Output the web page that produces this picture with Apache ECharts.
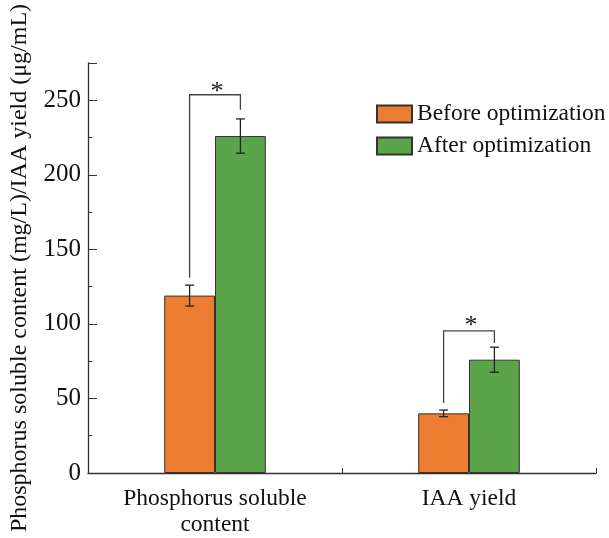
<!DOCTYPE html>
<html>
<head>
    <meta charset="utf-8" />
    <title>Phosphorus / IAA</title>
    <script src="https://cdn.jsdelivr.net/npm/echarts@6/dist/echarts.min.js"></script>
</head>
<body style="margin:0;">
    <div id="divChart" style="width:609px;height:538px;"></div>
    <script>
        // data
        var categories = ['Phosphorus soluble\ncontent', 'IAA yield'];
        var beforeVals = [119, 40];
        var beforeErr = [7, 2.2];
        var afterVals = [226, 76];
        var afterErr = [11.5, 8.4];
        // significance brackets: [top, left arm end, right arm end, star]
        var bracketTop = [253.7, 95.3];
        var bracketLeftEnd = [131, 47];
        var bracketRightEnd = [243.6, 87.2];
        var starLevel = [260, 103.5];
        var yTicks = [0, 50, 100, 150, 200, 250];

        var font = 'Liberation Serif';
        var orange = '#ED7D31';
        var green = '#5CA44A';

        function errItem(vals, errs) {
            return vals.map(function (v, i) { return [i, v - errs[i], v + errs[i]]; });
        }

        // side: -1 left bar, +1 right bar
        function errorRender(side) {
            return function (params, api) {
                var bw = api.size([1, 0])[0];
                var off = side * bw * 0.1;
                var lo = api.coord([api.value(0), api.value(1)]);
                var hi = api.coord([api.value(0), api.value(2)]);
                var x = lo[0] + off;
                var st = { stroke: '#222', lineWidth: 1.3 };
                return {
                    type: 'group',
                    children: [
                        { type: 'line', shape: { x1: x, y1: lo[1], x2: x, y2: hi[1] }, style: st },
                        { type: 'line', shape: { x1: x - 4.5, y1: lo[1], x2: x + 4.5, y2: lo[1] }, style: st },
                        { type: 'line', shape: { x1: x - 4.5, y1: hi[1], x2: x + 4.5, y2: hi[1] }, style: st }
                    ]
                };
            };
        }

        var bracketData = categories.map(function (c, i) {
            return [i, bracketTop[i], bracketLeftEnd[i], bracketRightEnd[i], starLevel[i]];
        });

        function bracketRender(params, api) {
            var bw = api.size([1, 0])[0];
            var c = api.coord([api.value(0), api.value(1)]);
            var xl = c[0] - bw * 0.1;
            var xr = c[0] + bw * 0.1;
            var yt = c[1];
            var yl = api.coord([api.value(0), api.value(2)])[1];
            var yr = api.coord([api.value(0), api.value(3)])[1];
            var ys = api.coord([api.value(0), api.value(4)])[1];
            return {
                type: 'group',
                children: [
                    {
                        type: 'polyline',
                        shape: { points: [[xl, yl], [xl, yt], [xr, yt], [xr, yr]] },
                        style: { stroke: '#444', lineWidth: 1.3, fill: null }
                    },
                    {
                        type: 'text',
                        style: {
                            text: '*', x: c[0] + 2, y: ys + 7, align: 'center', verticalAlign: 'middle',
                            font: '26px "' + font + '"', fill: '#222'
                        }
                    }
                ]
            };
        }

        var myChart = echarts.init(document.getElementById('divChart'));
        var option = {
            backgroundColor: '#fff',
            animation: false,
            textStyle: { fontFamily: font },
            grid: { left: 88, right: 13, top: 63, bottom: 65, containLabel: false, outerBoundsMode: 'none' },
            legend: {
                orient: 'vertical',
                left: 376,
                top: 102,
                padding: 0,
                itemWidth: 35,
                itemHeight: 17,
                itemGap: 8,
                icon: 'rect',
                textStyle: { fontFamily: font, fontSize: 23.5, color: '#111' },
                data: ['Before optimization', 'After optimization']
            },
            xAxis: {
                type: 'category',
                data: categories,
                axisLine: { lineStyle: { color: '#333', width: 1.3 } },
                axisTick: { show: true, inside: true, length: 5, lineStyle: { color: '#333' } },
                axisLabel: { fontFamily: font, fontSize: 23.5, color: '#111', margin: 13, lineHeight: 26 }
            },
            yAxis: {
                type: 'value',
                min: 0,
                max: 275,
                interval: 50,
                name: 'Phosphorus soluble content (mg/L)/IAA yield (μg/mL)',
                nameLocation: 'middle',
                nameGap: 56,
                nameTextStyle: { fontFamily: font, fontSize: 24, color: '#111' },
                splitLine: { show: false },
                axisLine: { show: true, lineStyle: { color: '#333', width: 1.3 } },
                axisTick: { show: true, inside: true, length: 9, lineStyle: { color: '#333' } },
                minorTick: { show: true, splitNumber: 2, length: 4, lineStyle: { color: '#333' } },
                axisLabel: {
                    fontFamily: font, fontSize: 25, color: '#111', margin: 7,
                    formatter: function (v) { return yTicks.indexOf(v) >= 0 ? v : ''; }
                }
            },
            series: [
                {
                    name: 'Before optimization',
                    type: 'bar',
                    barWidth: '20%',
                    barGap: '0%',
                    itemStyle: { color: orange, borderColor: '#333', borderWidth: 1 },
                    data: beforeVals
                },
                {
                    name: 'After optimization',
                    type: 'bar',
                    barWidth: '20%',
                    barGap: '0%',
                    itemStyle: { color: green, borderColor: '#333', borderWidth: 1 },
                    data: afterVals
                },
                {
                    type: 'custom',
                    renderItem: errorRender(-1),
                    data: errItem(beforeVals, beforeErr),
                    z: 5
                },
                {
                    type: 'custom',
                    renderItem: errorRender(1),
                    data: errItem(afterVals, afterErr),
                    z: 5
                },
                {
                    type: 'custom',
                    renderItem: bracketRender,
                    data: bracketData,
                    z: 5
                }
            ]
        };
        myChart.setOption(option);
    </script>
</body>
</html>
